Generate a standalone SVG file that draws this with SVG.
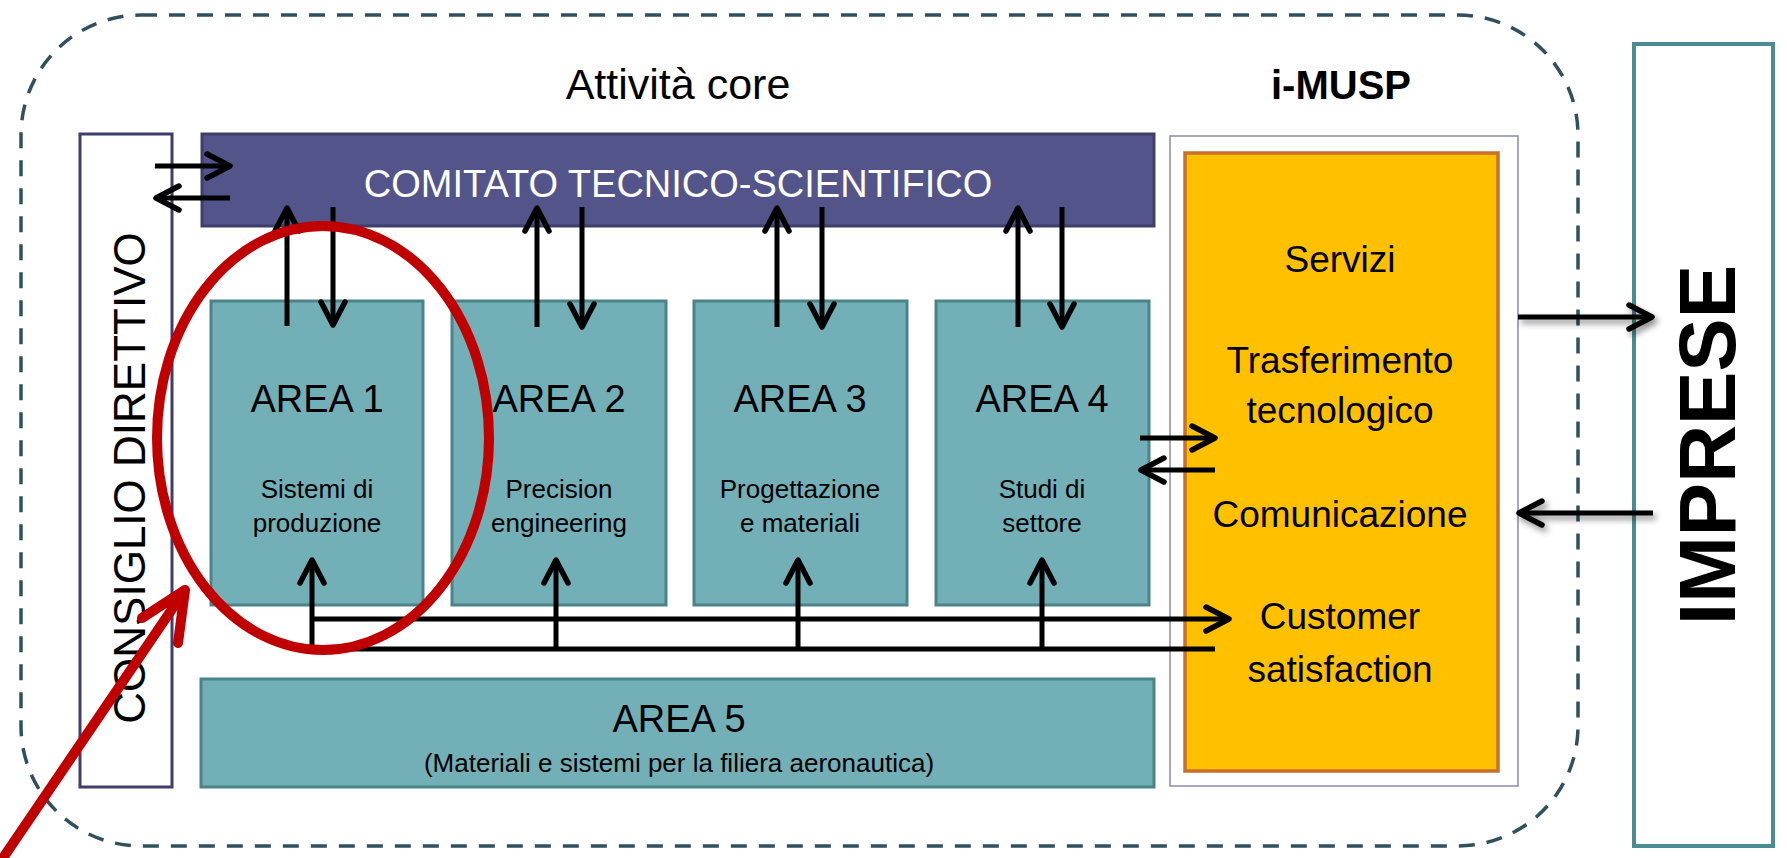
<svg xmlns="http://www.w3.org/2000/svg" width="1787" height="858" viewBox="0 0 1787 858">
<style>
.t{font-family:"Liberation Sans",Arial,sans-serif;text-anchor:middle;fill:#000}
.area{fill:#72AFB6;stroke:#4A8489;stroke-width:3}
.c{stroke:#000;stroke-width:5;fill:none}
.h{stroke:#000;stroke-width:5;fill:none;stroke-linecap:round;stroke-linejoin:round}
</style>
<defs>
<marker id="ah" markerUnits="userSpaceOnUse" markerWidth="50" markerHeight="50" viewBox="-30 -25 40 50" refX="0" refY="0" orient="auto" overflow="visible">
<path d="M-23,-12 L0,0 L-23,12" fill="none" stroke="#000" stroke-width="5.5" stroke-linecap="round" stroke-linejoin="round"/>
</marker>
<filter id="sh" x="-20%" y="-100%" width="140%" height="300%">
<feDropShadow dx="3" dy="4" stdDeviation="3" flood-color="#000" flood-opacity="0.45"/>
</filter>
</defs>

<g id="frame">
<rect x="21" y="15" width="1557" height="831" rx="120" ry="120" fill="none" stroke="#30505F" stroke-width="3.5" stroke-dasharray="16 12"/>
<text class="t" x="678" y="99" font-size="43">Attività core</text>
<text class="t" x="1341" y="99" font-size="40" font-weight="bold">i-MUSP</text>
</g>

<g id="consiglio">
<rect x="80" y="134" width="92" height="653" fill="#fff" stroke="#3F3D6B" stroke-width="3"/>
<text class="t" font-size="44" transform="translate(145,478) rotate(-90)">CONSIGLIO DIRETTIVO</text>
</g>

<g id="comitato">
<rect x="202" y="134" width="952" height="92" fill="#53548A" stroke="#3E3F6C" stroke-width="3"/>
<text class="t" x="678" y="197" font-size="38" style="fill:#fff">COMITATO TECNICO-SCIENTIFICO</text>
</g>

<g id="area1">
<rect class="area" x="211" y="301" width="212" height="304"/>
<text class="t" x="317" y="412" font-size="38">AREA 1</text>
<text class="t" x="317" y="498" font-size="26">Sistemi di</text>
<text class="t" x="317" y="532" font-size="26">produzione</text>
</g>
<g id="area2">
<rect class="area" x="452" y="301" width="214" height="304"/>
<text class="t" x="559" y="412" font-size="38">AREA 2</text>
<text class="t" x="559" y="498" font-size="26">Precision</text>
<text class="t" x="559" y="532" font-size="26">engineering</text>
</g>
<g id="area3">
<rect class="area" x="694" y="301" width="213" height="304"/>
<text class="t" x="800" y="412" font-size="38">AREA 3</text>
<text class="t" x="800" y="498" font-size="26">Progettazione</text>
<text class="t" x="800" y="532" font-size="26">e materiali</text>
</g>
<g id="area4">
<rect class="area" x="936" y="301" width="213" height="304"/>
<text class="t" x="1042" y="412" font-size="38">AREA 4</text>
<text class="t" x="1042" y="498" font-size="26">Studi di</text>
<text class="t" x="1042" y="532" font-size="26">settore</text>
</g>
<g id="area5">
<rect class="area" x="201" y="679" width="953" height="108"/>
<text class="t" x="679" y="732" font-size="38">AREA 5</text>
<text class="t" x="679" y="772" font-size="26">(Materiali e sistemi per la filiera aeronautica)</text>
</g>

<g id="imusp">
<rect x="1170" y="136" width="348" height="650" fill="#fff" stroke="#8A8AAE" stroke-width="1.5"/>
<rect x="1185" y="153" width="313" height="618" fill="#FFC000" stroke="#C8702A" stroke-width="3.5"/>
<text class="t" x="1340" y="272" font-size="37">Servizi</text>
<text class="t" x="1340" y="373" font-size="37">Trasferimento</text>
<text class="t" x="1340" y="423" font-size="37">tecnologico</text>
<text class="t" x="1340" y="527" font-size="37">Comunicazione</text>
<text class="t" x="1340" y="629" font-size="37">Customer</text>
<text class="t" x="1340" y="682" font-size="37">satisfaction</text>
</g>

<g id="imprese">
<rect x="1634" y="44" width="139" height="802" fill="#fff" stroke="#4A8C92" stroke-width="4"/>
<text class="t" font-size="80" font-weight="bold" transform="translate(1735,445) rotate(-90)">IMPRESE</text>
</g>

<g id="connectors">
<line class="c" x1="155" y1="166" x2="230" y2="166" marker-end="url(#ah)"/>
<line class="c" x1="230" y1="198" x2="156" y2="198" marker-end="url(#ah)"/>
<line class="c" x1="287" y1="326" x2="287" y2="208" marker-end="url(#ah)"/>
<line class="c" x1="333" y1="207" x2="333" y2="325" marker-end="url(#ah)"/>
<line class="c" x1="537" y1="327" x2="537" y2="208" marker-end="url(#ah)"/>
<line class="c" x1="582" y1="207" x2="582" y2="327" marker-end="url(#ah)"/>
<line class="c" x1="777" y1="327" x2="777" y2="208" marker-end="url(#ah)"/>
<line class="c" x1="822" y1="207" x2="822" y2="327" marker-end="url(#ah)"/>
<line class="c" x1="1018" y1="327" x2="1018" y2="208" marker-end="url(#ah)"/>
<line class="c" x1="1062" y1="207" x2="1062" y2="327" marker-end="url(#ah)"/>
<line class="c" x1="1140" y1="438" x2="1215" y2="438" marker-end="url(#ah)"/>
<line class="c" x1="1215" y1="470" x2="1141" y2="470" marker-end="url(#ah)"/>
<line class="c" x1="312" y1="649" x2="312" y2="560" marker-end="url(#ah)"/>
<line class="c" x1="556" y1="649" x2="556" y2="560" marker-end="url(#ah)"/>
<line class="c" x1="798" y1="649" x2="798" y2="560" marker-end="url(#ah)"/>
<line class="c" x1="1042" y1="649" x2="1042" y2="560" marker-end="url(#ah)"/>
<line class="c" x1="310" y1="619" x2="1229" y2="619" marker-end="url(#ah)"/>
<line class="c" x1="310" y1="649" x2="1215" y2="649"/>
<g filter="url(#sh)">
<line class="c" x1="1518" y1="317" x2="1652" y2="317" marker-end="url(#ah)"/>
<line class="c" x1="1653" y1="513" x2="1519" y2="513" marker-end="url(#ah)"/>
</g>
</g>

<g id="highlight">
<ellipse cx="323" cy="438" rx="166" ry="212" fill="none" stroke="#C00000" stroke-width="10"/>
<path d="M3,858 L185,590 M142,618 L185,590 L178,643" fill="none" stroke="#C00000" stroke-width="10" stroke-linecap="round" stroke-linejoin="round"/>
</g>
</svg>
